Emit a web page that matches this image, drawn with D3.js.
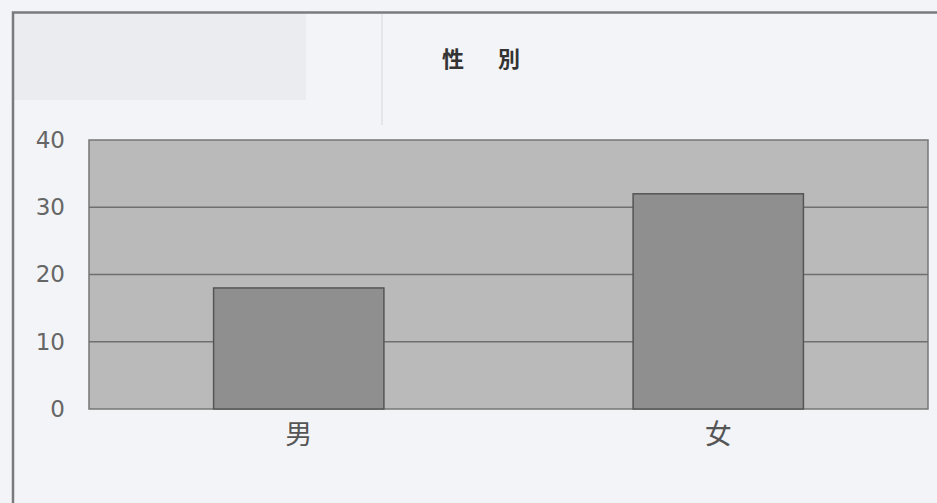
<!DOCTYPE html>
<html>
<head>
<meta charset="utf-8">
<script src="https://cdn.jsdelivr.net/npm/d3@7"></script>
<style>
  body { margin: 0; background: #f3f4f7; }
  svg { display: block; }
</style>
</head>
<body>
<svg id="chart" width="937" height="503"></svg>
<script>
// data
const categories = ["男", "女"];
const counts = [18, 32];
const yTicks = [0, 10, 20, 30, 40];
const title = "性別";

const width = 937, height = 503;
const margin = { top: 140, right: 10, bottom: 94, left: 89 };
const plotW = 928 - margin.left;
const plotH = 409 - margin.top;

const svg = d3.select("#chart");

// page background (scan) + faint show-through from the other side
svg.append("rect").attr("width", width).attr("height", height).attr("fill", "#f3f4f7");
svg.append("rect").attr("x", 14).attr("y", 14).attr("width", 292).attr("height", 86).attr("fill", "#ebecef");
svg.append("line").attr("x1", 382).attr("x2", 382).attr("y1", 14).attr("y2", 125)
  .attr("stroke", "#e4e5e9").attr("stroke-width", 2);

// outer frame
svg.append("path")
  .attr("d", `M13,${height} L13,12.5 L${width},12.5`)
  .attr("fill", "none").attr("stroke", "#7a7a7c").attr("stroke-width", 2.5);

// title (handwritten in original)
svg.append("text")
  .attr("x", 442).attr("y", 67)
  .attr("font-family", "'Noto Sans CJK TC', sans-serif")
  .attr("font-weight", "bold")
  .attr("font-size", 22)
  .attr("letter-spacing", 34)
  .attr("fill", "#333")
  .text(title);

const g = svg.append("g").attr("transform", `translate(${margin.left},${margin.top})`);

const x = d3.scaleBand().domain(categories).range([0, plotW]).paddingInner(0.594).paddingOuter(0.297);
const y = d3.scaleLinear().domain([0, 40]).range([plotH, 0]);

// plot area
g.append("rect").attr("width", plotW).attr("height", plotH)
  .attr("fill", "#bababa").attr("stroke", "#767676").attr("stroke-width", 1.5);

// gridlines
g.append("g")
  .selectAll("line")
  .data(yTicks.filter(d => d > 0 && d < 40))
  .join("line")
  .attr("x1", 0).attr("x2", plotW)
  .attr("y1", d => y(d)).attr("y2", d => y(d))
  .attr("stroke", "#6f6f6f").attr("stroke-width", 1.5);

// bars
g.selectAll("rect.bar")
  .data(counts)
  .join("rect")
  .attr("class", "bar")
  .attr("x", (d, i) => x(categories[i]))
  .attr("width", x.bandwidth())
  .attr("y", d => y(d))
  .attr("height", d => plotH - y(d))
  .attr("fill", "#8f8f8f")
  .attr("stroke", "#555").attr("stroke-width", 1.5);

// y axis
const yaxis = d3.axisLeft(y).tickValues(yTicks).tickSize(0).tickPadding(24);
const gy = g.append("g").call(yaxis);
gy.select(".domain").remove();
gy.selectAll("text")
  .attr("font-family", "'DejaVu Sans', sans-serif")
  .attr("font-size", 23)
  .attr("fill", "#666");

// x axis
const xaxis = d3.axisBottom(x).tickSize(0).tickPadding(16);
const gx = g.append("g").attr("transform", `translate(0,${plotH})`).call(xaxis);
gx.select(".domain").remove();
gx.selectAll("text")
  .attr("font-family", "'Noto Sans CJK TC', sans-serif")
  .attr("font-size", 27)
  .attr("fill", "#555");
</script>
</body>
</html>
